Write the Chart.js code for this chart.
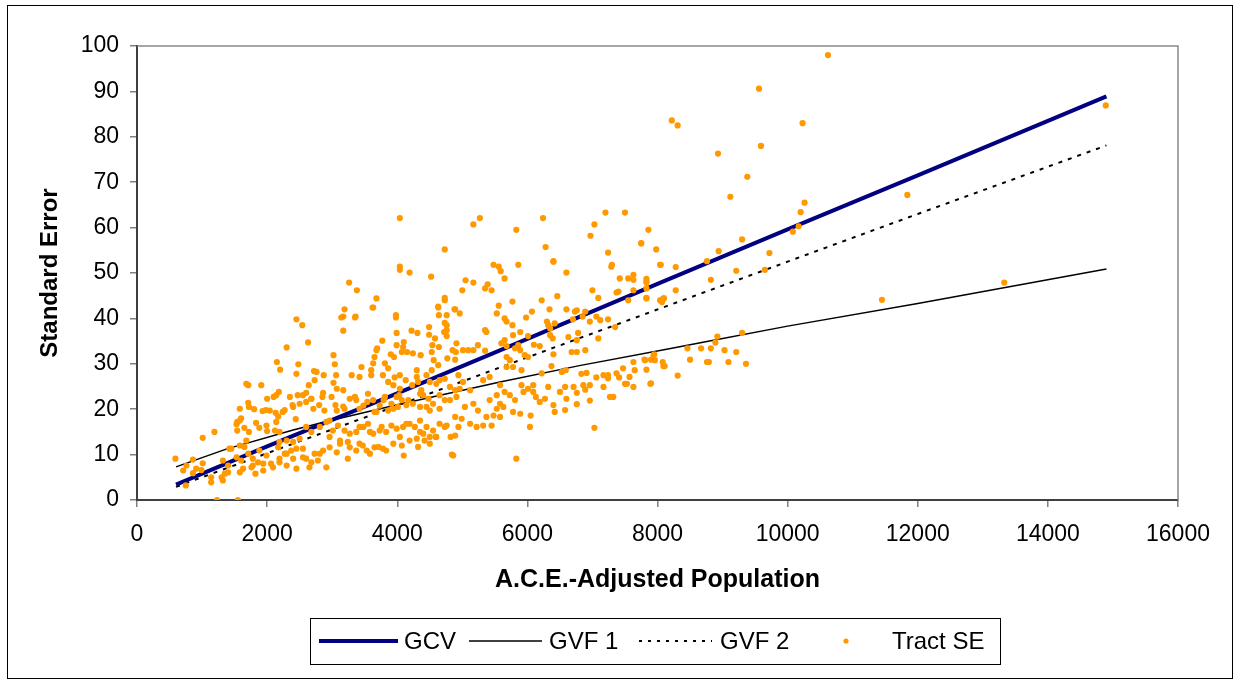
<!DOCTYPE html>
<html>
<head>
<meta charset="utf-8">
<title>Standard Error by A.C.E.-Adjusted Population</title>
<script src="https://cdn.jsdelivr.net/npm/chart.js@4.4.0/dist/chart.umd.min.js"></script>
<style>
  html, body { margin: 0; padding: 0; background: #fff; }
  #wrap { width: 1235px; height: 680px; }
</style>
</head>
<body>
<div id="wrap"><canvas id="chart" width="1235" height="680"></canvas></div>
<script>
// axis ticks
var popTicks = [0, 2000, 4000, 6000, 8000, 10000, 12000, 14000, 16000];
var seTicks = [0, 10, 20, 30, 40, 50, 60, 70, 80, 90, 100];

// model curves (population, standard error)
var gcvPop = [600, 2000, 4000, 6000, 8000, 10000, 12000, 14900];
var gcvSE  = [3.4, 11.8, 23.5, 35.5, 47.6, 59.6, 71.5, 88.9];

var gvf1Pop = [600, 1370, 2400, 2910, 4000, 5580, 6800, 8140, 8760, 10000, 12000, 14900];
var gvf1SE  = [7.3, 11.2, 15.4, 17.3, 21.0, 26.0, 29.6, 33.2, 34.9, 38.3, 43.3, 50.9];

var gvf2Pop = [600, 2000, 4000, 5580, 8140, 10000, 12000, 14900];
var gvf2SE  = [2.9, 10.3, 20.8, 29.2, 42.7, 52.5, 63.0, 78.1];

// tract standard errors [population, SE]
var tractSE = [
  [10620,98.0],[9560,90.6],[8220,83.6],[8310,82.5],[8930,76.3],[9590,78.0],[10230,83.0],[9380,71.2],[9120,66.8],[10260,65.5],
  [10200,63.4],[10080,59.1],[10170,60.3],[11840,67.2],[14890,86.9],[13330,47.9],[11450,44.1],[9720,54.4],[9650,50.7],[9300,57.4],
  [8940,54.8],[8760,52.6],[9210,50.5],[8820,48.5],
  [7860,59.5],[7750,56.6],[7980,55.2],[8050,51.8],[8280,51.3],[7830,48.7],[7830,47.9],[8280,46.2],[7830,44.5],[8050,44.0],
  [8100,44.4],[8070,43.6],[9300,36.8],[8920,36.0],[8890,34.7],[8460,33.4],[8670,33.4],[8820,33.4],[9030,33.0],[9210,32.6],
  [7950,32.1],[7800,30.9],[7900,30.9],[8500,30.9],[8760,30.4],[8790,30.4],[9090,30.4],[9360,30.0],[8080,30.4],[8110,29.5],
  [7830,28.7],[8310,27.4],[7900,25.7],
  [6400,52.5],[6600,50.1],[7300,51.8],[7290,51.4],[7630,49.6],[7550,48.8],[7630,48.5],[7420,48.8],[8040,51.8],[7830,48.1],
  [7400,45.9],[7370,45.7],[7630,46.2],[7550,44.0],[7830,44.4],[8040,44.0],[8090,44.4],[7000,46.2],[6220,44.0],[6460,44.9],
  [6760,41.8],[6730,41.5],[6890,41.5],[6600,42.0],[6340,42.0],[6070,41.5],[5980,40.2],[5650,40.0],[5680,39.3],[5770,38.5],
  [6300,39.3],[6320,38.5],[6420,38.9],[6350,37.8],[7060,40.4],[7120,39.6],[7240,39.8],[6960,39.3],[6700,39.8],[6850,40.4],
  [7350,38.1],[5890,37.0],[5780,36.3],[5650,35.2],[6010,36.1],[6350,36.3],[6390,35.6],[6780,36.8],[6630,35.9],[6760,35.2],
  [7090,35.6],[5600,34.5],[5680,33.9],[5810,33.4],[5860,34.1],[5890,33.0],[5960,31.9],[5680,31.5],[5730,30.8],[6190,33.9],
  [6100,34.2],[6400,32.1],[6680,32.6],[6760,32.6],[6890,33.0],[5680,29.3],[5780,29.3],[5910,28.6],[6010,31.5],[6370,29.5],
  [6590,28.6],[6530,28.2],[6220,27.9],[6830,27.8],[6910,28.0],[7630,30.4],[7810,30.8],[7960,30.8],[8090,29.5],[7940,31.9],
  [7650,28.6],[7470,29.0],[7060,27.0],[7170,27.5],[7240,26.8],[7370,27.9],[7410,27.0],[7500,25.6],[7530,25.6],[7570,27.1],
  [7630,24.9],[7890,25.6],[5580,25.3],[5650,23.8],[5730,23.1],[5810,22.0],[5910,25.3],[5940,23.8],[6010,24.5],[6090,25.3],
  [6090,23.8],[6130,22.7],[6190,21.6],[6270,22.3],[6320,24.9],[6400,20.9],[6500,23.8],[6580,24.9],[6600,22.3],[6710,24.9],
  [6760,23.6],[6860,25.3],[6960,25.3],[6890,24.3],[7170,24.9],[7270,22.7],[7320,22.7],[6960,21.9],[5890,19.0],[5780,19.4],
  [6050,18.6],[6420,19.4],[6580,19.8],[6760,21.1],[5580,21.2],[5630,20.5],[5580,18.3],[6040,16.1],[7030,15.9],[5830,9.1],
  [7030,60.7],[7200,63.3],[7500,63.3],[6970,58.2],[7750,56.5],[7240,54.5],[7830,46.6],[7090,44.5],[7240,27.5],[4860,9.8],
  [4040,62.1],[5170,60.7],[5270,62.1],[6240,62.1],[5830,59.5],[4730,55.2],[6280,55.7],[6400,52.6],[4040,51.4],[4040,50.7],
  [4190,50.1],[4520,49.2],[5480,51.8],[5560,51.4],[5590,50.4],[5860,51.8],[5650,48.8],[5050,48.4],[5170,47.9],[5000,46.2],
  [5390,47.5],[5350,46.6],[5450,46.2],[5770,43.7],[4730,44.5],[4630,42.4],[4880,42.0],[5560,42.8],[4640,33.7],
  [3630,42.4],[4730,44.0],[3170,40.4],[3360,40.4],[3980,40.7],[3980,40.2],[4630,42.6],[4760,40.7],[4890,42.0],[4960,41.1],
  [4640,40.7],[5530,41.1],[3170,37.3],[4220,37.3],[4310,36.8],[3990,36.8],[4490,36.4],[4580,35.6],[4760,37.4],[4760,36.1],
  [4760,38.5],[5370,37.0],[5350,37.4],[3770,35.1],[3690,33.4],[3650,31.5],[3990,34.1],[4090,33.7],[4150,32.6],[4070,32.6],
  [4240,32.3],[4360,31.9],[3900,32.1],[3950,31.5],[4530,32.6],[4560,30.8],[4630,29.7],[4770,31.2],[4900,32.6],[4910,34.5],
  [5010,33.0],[5090,33.0],[5170,33.0],[5240,34.1],[5350,32.9],[3020,31.9],[3040,29.9],[3450,29.3],[3630,30.1],[3600,27.5],
  [3420,27.1],[3300,27.5],[3810,30.1],[3860,29.0],[3780,27.5],[3960,27.0],[3860,26.0],[4040,27.5],[4130,26.4],[4040,24.5],
  [3940,25.3],[4300,28.6],[4320,26.0],[4450,27.5],[4500,26.0],[4370,24.2],[4600,25.6],[4730,26.7],[4810,24.9],[4650,23.1],
  [4940,27.5],[5010,26.0],[5120,24.2],[4960,24.5],[5320,26.4],[5420,27.1],[5530,23.1],[5420,22.0],[5530,20.1],[3020,25.8],
  [3070,24.5],[3170,24.2],[3270,22.3],[3370,22.0],[3480,20.8],[3190,20.1],[3070,19.7],[3550,23.4],[3630,22.0],[3730,20.8],
  [3810,22.7],[3910,21.2],[3990,22.7],[4070,22.0],[3680,19.4],[3860,19.7],[4010,20.5],[4170,22.0],[4240,21.2],[4350,20.5],
  [4400,23.1],[4480,22.3],[4550,21.2],[4650,20.1],[4500,19.7],[4810,22.0],[4910,22.7],[5040,20.5],[5170,21.2],[5240,19.7],
  [5370,18.3],[5480,18.6],[2960,17.5],[3090,16.4],[3010,15.3],[3190,15.3],[3270,14.6],[3370,15.0],[3480,16.1],[3550,16.8],
  [3630,14.6],[3730,15.3],[3830,15.0],[3910,16.4],[3990,15.7],[4090,16.1],[4190,16.8],[4270,16.1],[4350,15.0],[4450,16.1],
  [4550,15.3],[4600,13.9],[4650,16.8],[4760,16.4],[4890,14.2],[4990,17.9],[5120,16.8],[5220,16.1],[5320,16.4],[5450,16.4],
  [3120,12.4],[3270,11.6],[3420,12.4],[3530,10.9],[3650,11.6],[3780,11.3],[3940,12.4],[4070,12.0],[4190,13.1],[4300,13.5],
  [4420,13.1],[4500,13.9],[3240,9.1],[3070,10.5],[4100,9.8],[4840,10.0],[2960,13.9],[2960,11.6],
  [3260,47.9],[3380,46.2],[3680,44.4],[3620,42.4],[3190,42.0],[3140,40.2],[3350,40.2],[2450,39.8],[2540,38.5],[3060,27.5],
  [3600,28.6],[3680,33.0],[4100,34.8],[4490,38.1],[4720,37.0],[4730,39.0],[4540,34.1],[4850,33.0],[4890,30.9],[2100,22.7],
  [1980,19.8],[2130,19.2],[1530,16.7],[1580,17.5],[2350,22.7],[2390,20.9],[2270,19.8],[2550,23.1],[2720,28.4],[2680,22.3],
  [2850,22.7],[2990,22.7],[3050,20.9],[3170,20.6],[3350,22.7],[3420,20.1],[3540,21.6],[3650,19.4],[3790,22.0],[3940,20.1],
  [4030,23.1],[4140,20.9],[4230,25.3],[4300,27.1],[4350,23.4],[4450,20.5],[4530,28.6],[4650,26.4],[4730,22.0],[4890,24.2],
  [3240,12.8],[3370,10.9],[3470,12.0],[3580,10.2],[3710,11.7],[3830,10.9],[4040,13.9],[4320,11.7],[4400,14.6],[4500,12.4],
  [4590,13.9],[4730,16.1],[4820,13.9],[4940,16.1],[4890,18.3],[4350,17.5],[4140,16.8],[3760,16.1],[3580,15.0],[3420,16.1],
  [3120,13.1],[2810,10.2],[2680,8.3],[2450,11.3],[2300,10.2],[2090,7.2],[1780,7.6],[2190,8.3],[2550,9.4],[1650,11.7],
  [2300,33.6],[2630,34.7],[2150,30.4],[2200,28.7],[2480,29.9],[2450,27.8],[2760,28.2],[2870,27.5],[2730,26.4],[2640,25.3],
  [1680,25.6],[1710,25.3],[1910,25.3],[2860,23.6],[2600,23.6],[2180,23.8],[2140,23.1],[2000,22.3],[2470,23.1],[2500,21.2],
  [2600,21.6],[2680,22.3],[1710,21.4],[1720,20.5],[1580,20.1],[1930,19.6],[2040,19.7],[1800,20.0],[2240,19.4],[2170,18.4],
  [2140,17.2],[2400,20.5],[2440,17.8],[2710,20.1],[2800,20.9],[2880,19.7],[1600,18.0],[1540,17.2],[1540,15.3],[1830,17.0],
  [1880,15.9],[1650,15.9],[1720,15.0],[1990,16.4],[2000,15.2],[2120,15.3],[2190,15.0],[1190,15.0],[1010,13.7],[590,9.1],
  [860,8.9],[760,7.6],[910,6.9],[1010,8.1],[990,6.6],[710,6.5],[860,5.9],[750,3.2],[1140,5.0],[1140,3.9],
  [1320,4.3],[1350,5.8],[1400,6.1],[1300,5.0],[1320,8.7],[1400,7.6],[1450,11.3],[1530,9.4],[1600,8.7],[1630,6.9],
  [1710,10.2],[1780,9.1],[1760,7.2],[1880,10.9],[1860,8.3],[1940,6.5],[1990,9.8],[2060,8.0],[2170,11.6],[2190,9.1],
  [2270,10.2],[2300,7.6],[2370,10.9],[2400,9.1],[2450,6.9],[2550,11.3],[2600,9.1],[2650,7.2],[2730,10.2],[2780,8.7],
  [2860,10.9],[2910,7.2],[2500,13.5],[2680,15.0],[2810,16.1],[2910,17.2],[2600,16.1],[2300,13.1],[2190,12.8],[2400,12.8],
  [1680,13.1],[1580,12.0],[1420,11.3],[1230,0],[1550,0],[1820,5.8],[1940,8.0],[1580,6.1]
];

var fontFamily = '"Liberation Sans", Arial, sans-serif';

function toXY(xs, ys) {
  return xs.map(function(x, i) { return { x: x, y: ys[i] }; });
}

// outer frame + top/right plot border
var framePlugin = {
  id: 'frame',
  beforeDraw: function(chart) {
    var ctx = chart.ctx;
    ctx.save();
    ctx.fillStyle = '#fff';
    ctx.fillRect(0, 0, chart.width, chart.height);
    ctx.strokeStyle = '#000';
    ctx.lineWidth = 1;
    ctx.strokeRect(7.5, 5.5, 1225, 673);
    ctx.restore();
  },
  afterDatasetsDraw: function(chart) {
    var a = chart.chartArea, ctx = chart.ctx;
    ctx.save();
    ctx.strokeStyle = '#888';
    ctx.lineWidth = 1.5;
    ctx.beginPath();
    ctx.moveTo(a.left, a.top);
    ctx.lineTo(a.right, a.top);
    ctx.lineTo(a.right, a.bottom);
    ctx.stroke();
    ctx.restore();
  }
};

// boxed legend at the bottom
var legendPlugin = {
  id: 'boxLegend',
  afterDraw: function(chart) {
    var ctx = chart.ctx;
    var items = [
      { label: 'GCV', x1: 319, x2: 398, tx: 404 },
      { label: 'GVF 1', x1: 469, x2: 542, tx: 549 },
      { label: 'GVF 2', x1: 639, x2: 712, tx: 720 },
      { label: 'Tract SE', dot: 846, tx: 892 }
    ];
    var y = 641;
    ctx.save();
    ctx.strokeStyle = '#000';
    ctx.lineWidth = 1;
    ctx.strokeRect(310.5, 618.5, 690, 46);
    ctx.font = '24px ' + fontFamily;
    ctx.textBaseline = 'middle';
    items.forEach(function(it) {
      var ds = chart.data.datasets.find(function(d) { return d.label === it.label; });
      if (it.dot) {
        ctx.fillStyle = ds.backgroundColor;
        ctx.beginPath();
        ctx.arc(it.dot, y, 2.6, 0, Math.PI * 2);
        ctx.fill();
      } else {
        ctx.strokeStyle = ds.borderColor;
        ctx.lineWidth = ds.borderWidth;
        ctx.setLineDash(ds.legendDash || []);
        ctx.beginPath();
        ctx.moveTo(it.x1, y);
        ctx.lineTo(it.x2, y);
        ctx.stroke();
        ctx.setLineDash([]);
      }
      ctx.fillStyle = '#000';
      ctx.fillText(it.label, it.tx, y + 1);
    });
    ctx.restore();
  }
};

var chart = new Chart(document.getElementById('chart'), {
  type: 'scatter',
  data: {
    datasets: [
      {
        label: 'Tract SE',
        data: tractSE.map(function(p) { return { x: p[0], y: p[1] }; }),
        backgroundColor: '#ff9900',
        borderWidth: 0,
        pointRadius: 3.1,
        order: 0
      },
      {
        label: 'GCV',
        data: toXY(gcvPop, gcvSE),
        showLine: true,
        borderColor: '#000080',
        borderWidth: 4,
        pointRadius: 0,
        tension: 0,
        order: 1
      },
      {
        label: 'GVF 1',
        data: toXY(gvf1Pop, gvf1SE),
        showLine: true,
        borderColor: '#000',
        borderWidth: 1.5,
        pointRadius: 0,
        tension: 0,
        order: 2
      },
      {
        label: 'GVF 2',
        data: toXY(gvf2Pop, gvf2SE),
        showLine: true,
        borderColor: '#000',
        borderWidth: 2,
        borderDash: [4, 6],
        legendDash: [3, 6],
        pointRadius: 0,
        tension: 0,
        order: 3
      }
    ]
  },
  options: {
    responsive: false,
    animation: false,
    devicePixelRatio: 1,
    layout: { padding: { left: 0, right: 57, top: 46, bottom: 0 } },
    plugins: {
      legend: { display: false },
      tooltip: { enabled: false }
    },
    scales: {
      x: {
        type: 'linear',
        min: popTicks[0],
        max: popTicks[popTicks.length - 1],
        afterBuildTicks: function(s) { s.ticks = popTicks.map(function(v) { return { value: v }; }); },
        ticks: {
          color: '#000',
          font: { family: fontFamily, size: 23 },
          padding: 14,
          maxRotation: 0,
          callback: function(v) { return String(v); }
        },
        grid: { drawOnChartArea: false, tickLength: 7, color: '#808080', lineWidth: 1.5 },
        border: { color: '#404040', width: 2 },
        title: {
          display: true,
          text: 'A.C.E.-Adjusted Population',
          color: '#000',
          font: { family: fontFamily, size: 25, weight: 'bold' },
          padding: { top: 0, bottom: 85 }
        },
        afterFit: function(s) { s.height = 180; }
      },
      y: {
        type: 'linear',
        min: seTicks[0],
        max: seTicks[seTicks.length - 1],
        afterBuildTicks: function(s) { s.ticks = seTicks.map(function(v) { return { value: v }; }); },
        ticks: {
          color: '#000',
          font: { family: fontFamily, size: 23 },
          padding: 11,
          callback: function(v) { return String(v); }
        },
        grid: { drawOnChartArea: false, tickLength: 7, color: '#808080', lineWidth: 1.5 },
        border: { color: '#404040', width: 2 },
        title: {
          display: true,
          text: 'Standard Error',
          color: '#000',
          font: { family: fontFamily, size: 24, weight: 'bold' },
          padding: { top: 36, bottom: 0 }
        },
        afterFit: function(s) { s.width = 137; }
      }
    }
  },
  plugins: [framePlugin, legendPlugin]
});
</script>
</body>
</html>
